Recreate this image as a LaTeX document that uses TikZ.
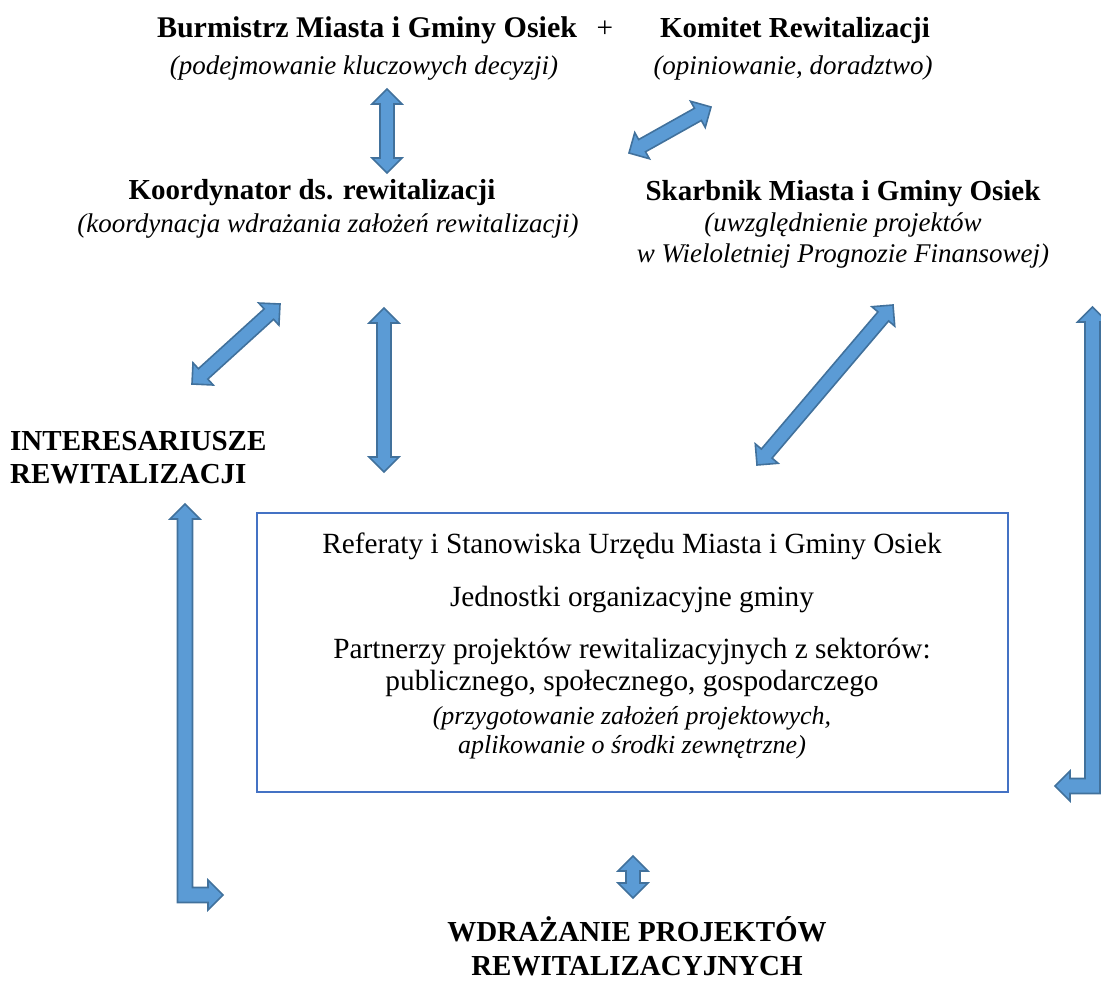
\documentclass[tikz,border=0pt]{standalone}
\usepackage{fontspec}
\setmainfont{Liberation Serif}
\usetikzlibrary{calc}
\definecolor{afill}{RGB}{91,155,213}
\definecolor{aline}{RGB}{65,113,156}
\definecolor{boxline}{RGB}{68,114,196}
\tikzset{
  title/.style={font=\fontsize{29}{34}\selectfont\bfseries, inner sep=0pt, anchor=base},
  sub/.style={font=\fontsize{27}{32}\selectfont\itshape, inner sep=0pt, anchor=base},
  btext/.style={font=\fontsize{29.3}{34}\selectfont, inner sep=0pt, anchor=base},
  bsub/.style={font=\fontsize{26}{31}\selectfont\itshape, inner sep=0pt, anchor=base},
  blk/.style={fill=afill, draw=aline, line width=1.6pt, line join=miter},
  dbl/.style={blk, to path={let \p1=(\tikztostart), \p2=(\tikztotarget),
     \n1={atan2(\y2-\y1,\x2-\x1)}, \n2={veclen(\x2-\x1,\y2-\y1)} in
     (\p1) -- ($(\p1)+(\n1:15pt)+(\n1+90:15pt)$)
     -- ($(\p1)+(\n1:15pt)+(\n1+90:7pt)$)
     -- ($(\p1)+(\n1:\n2-15pt)+(\n1+90:7pt)$)
     -- ($(\p1)+(\n1:\n2-15pt)+(\n1+90:15pt)$)
     -- (\p2)
     -- ($(\p1)+(\n1:\n2-15pt)+(\n1-90:15pt)$)
     -- ($(\p1)+(\n1:\n2-15pt)+(\n1-90:7pt)$)
     -- ($(\p1)+(\n1:15pt)+(\n1-90:7pt)$)
     -- ($(\p1)+(\n1:15pt)+(\n1-90:15pt)$)
     -- cycle}}
}
\begin{document}
\begin{tikzpicture}[x=1pt,y=-1pt]
\useasboundingbox (0,0) rectangle (1101,982);
% texts
\node[title, font=\fontsize{30}{35}\selectfont\bfseries] (burm) at (367,38) {Burmistrz Miasta i Gminy Osiek};
\node[btext] (plus) at (605,38) {+};
\node[title] (kom) at (795,38) {Komitet Rewitalizacji};
\node[sub] (burmsub) at (364,75) {(podejmowanie kluczowych decyzji)};
\node[sub] (komsub) at (793,75) {(opiniowanie, doradztwo)};
\node[title] (koord) at (312,199) {Koordynator ds. rewitalizacji};
\node[sub] (koordsub) at (328,232) {(koordynacja wdrażania założeń rewitalizacji)};
\node[title] (skarb) at (843,200) {Skarbnik Miasta i Gminy Osiek};
\node[sub] (skarbsub1) at (843,231) {(uwzględnienie projektów};
\node[sub] (skarbsub2) at (843,262) {w Wieloletniej Prognozie Finansowej)};
\node[title, anchor=base west] (inter1) at (10,450) {INTERESARIUSZE};
\node[title, anchor=base west] (inter2) at (10,483) {REWITALIZACJI};
% box
\node[draw=boxline, line width=1.8pt, minimum width=751pt, minimum height=279pt, inner sep=0pt] (box) at (632.5,652.5) {};
\node[btext] (ref) at (632,553) {Referaty i Stanowiska Urzędu Miasta i Gminy Osiek};
\node[btext] (jedn) at (632,606) {Jednostki organizacyjne gminy};
\node[btext] (part1) at (632,658) {Partnerzy projektów rewitalizacyjnych z sektorów:};
\node[btext] (part2) at (632,690) {publicznego, społecznego, gospodarczego};
\node[bsub] (prz1) at (632,724) {(przygotowanie założeń projektowych,};
\node[bsub] (prz2) at (632,753) {aplikowanie o środki zewnętrzne)};
\node[title] (wdr1) at (637,941) {WDRAŻANIE PROJEKTÓW};
\node[title] (wdr2) at (637,975) {REWITALIZACYJNYCH};
% arrow end points
\coordinate (a1s) at (387,89);  \coordinate (a1e) at (387,173);
\coordinate (a2s) at (629,153); \coordinate (a2e) at (711,107);
\coordinate (a3s) at (192,384); \coordinate (a3e) at (280,304);
\coordinate (a4s) at (384,308); \coordinate (a4e) at (384,472);
\coordinate (a5s) at (757,465); \coordinate (a5e) at (893,305);
\coordinate (a6s) at (633,856); \coordinate (a6e) at (633,898);
\path[dbl] (a1s) to (a1e);
\path[dbl] (a2s) to (a2e);
\path[dbl] (a3s) to (a3e);
\path[dbl] (a4s) to (a4e);
\path[dbl] (a5s) to (a5e);
\path[dbl] (a6s) to (a6e);
% left L arrow
\coordinate (LT) at (185,504);
\coordinate (LR) at (223,895);
\path[blk] (LT) -- ($(LT)+(15,15)$) -- ($(LT)+(7.5,15)$)
  -- ($(LT|-LR)+(7.5,-7.5)$) -- ($(LR)+(-15,-7.5)$) -- ($(LR)+(-15,-15)$)
  -- (LR) -- ($(LR)+(-15,15)$) -- ($(LR)+(-15,7.5)$)
  -- ($(LT|-LR)+(-7.5,7.5)$) -- ($(LT)+(-7.5,15)$) -- ($(LT)+(-15,15)$) -- cycle;
% right L arrow
\coordinate (RT) at (1092.5,307);
\coordinate (RR) at (1055,786);
\path[blk] (RT) -- ($(RT)+(15,15)$) -- ($(RT)+(7.5,15)$)
  -- ($(RT|-RR)+(7.5,7.5)$) -- ($(RR)+(15,7.5)$) -- ($(RR)+(15,15)$)
  -- (RR) -- ($(RR)+(15,-15)$) -- ($(RR)+(15,-7.5)$)
  -- ($(RT|-RR)+(-7.5,-7.5)$) -- ($(RT)+(-7.5,15)$) -- ($(RT)+(-15,15)$) -- cycle;
\end{tikzpicture}
\end{document}
